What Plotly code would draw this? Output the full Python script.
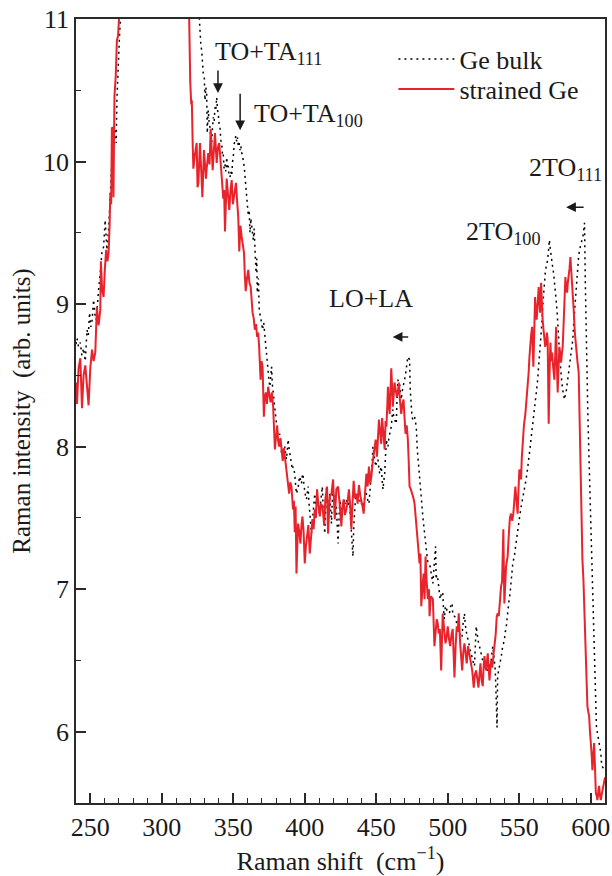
import plotly.graph_objects as go

# ---------------- data ----------------
# Ge bulk  (Raman shift cm^-1, intensity arb. units)
bulk_points = [
    (240.0, 8.72), (240.7, 8.76), (241.8, 8.70), (243.0, 8.73), (244.1, 8.64), (245.3, 8.69), (246.5, 8.60), (247.7, 8.82),
    (248.6, 8.78), (249.5, 8.94), (250.4, 8.84), (251.2, 8.88), (252.3, 9.03), (253.2, 8.93), (254.2, 8.89), (255.0, 9.02),
    (255.8, 9.10), (257.0, 9.22), (258.1, 9.36), (259.3, 9.40), (260.4, 9.59), (261.6, 9.38), (262.8, 9.52), (263.9, 9.75),
    (265.1, 9.96), (265.7, 10.10), (266.2, 10.24), (267.4, 10.24), (268.1, 10.13), (268.6, 10.43), (269.3, 10.67), (270.2, 10.83),
    (270.9, 10.97), (272.0, 11.4), (324.0, 11.4), (326.3, 10.97), (327.3, 10.82), (327.9, 10.78), (329.0, 10.62), (329.7, 10.60),
    (330.2, 10.43), (330.8, 10.52), (331.4, 10.48), (331.8, 10.20), (332.5, 10.36), (333.1, 10.28), (333.7, 10.24), (334.3, 10.16),
    (334.9, 10.13), (335.5, 10.24), (336.0, 10.31), (336.6, 10.28), (337.2, 10.38), (337.8, 10.36), (338.4, 10.45), (339.0, 10.36),
    (339.5, 10.34), (340.1, 10.26), (340.7, 10.24), (341.3, 10.15), (341.9, 10.13), (342.5, 10.04), (343.0, 10.05), (343.6, 9.95),
    (344.2, 9.98), (344.8, 9.93), (345.4, 10.03), (346.0, 9.95), (346.5, 9.97), (347.1, 9.90), (347.7, 9.89), (348.3, 9.93),
    (348.9, 9.90), (349.5, 10.00), (350.0, 10.03), (350.6, 10.12), (351.2, 10.15), (351.8, 10.18), (352.4, 10.14), (352.9, 10.17),
    (353.5, 10.11), (354.1, 10.13), (354.7, 10.08), (355.3, 10.11), (355.9, 10.06), (356.5, 10.05), (357.0, 10.00), (357.6, 9.97),
    (358.2, 9.90), (358.8, 9.82), (359.4, 9.70), (360.0, 9.68), (360.5, 9.62), (361.1, 9.66), (361.7, 9.50), (362.3, 9.60),
    (362.9, 9.55), (363.4, 9.48), (364.0, 9.45), (364.6, 9.53), (365.2, 9.40), (365.9, 9.22), (366.4, 9.32), (366.8, 9.08),
    (367.6, 9.18), (368.2, 8.95), (369.1, 8.91), (369.8, 8.84), (370.5, 8.82), (371.3, 8.87), (372.1, 8.78), (372.7, 8.72),
    (373.3, 8.66), (373.7, 8.56), (374.4, 8.49), (375.0, 8.46), (375.6, 8.42), (376.2, 8.50), (376.8, 8.56), (377.3, 8.44),
    (377.9, 8.38), (378.5, 8.33), (379.1, 8.26), (379.7, 8.21), (380.3, 8.14), (380.8, 8.12), (381.4, 8.05), (382.0, 8.08),
    (382.6, 8.09), (383.2, 8.01), (383.8, 7.95), (384.4, 7.96), (384.9, 7.93), (385.5, 7.97), (386.1, 8.00), (386.7, 7.94),
    (387.2, 7.91), (387.8, 7.98), (388.4, 8.05), (389.0, 7.99), (389.6, 7.95), (390.2, 7.90), (390.8, 7.88), (391.3, 7.84),
    (391.9, 7.86), (392.5, 7.83), (393.0, 7.81), (393.6, 7.73), (394.2, 7.67), (394.8, 7.69), (395.3, 7.70), (395.9, 7.76),
    (396.5, 7.79), (397.1, 7.76), (397.7, 7.74), (398.2, 7.79), (398.8, 7.81), (399.4, 7.73), (400.0, 7.67), (400.6, 7.65),
    (401.2, 7.63), (401.7, 7.69), (402.3, 7.72), (402.9, 7.61), (403.5, 7.51), (404.1, 7.45), (404.7, 7.39), (405.3, 7.47),
    (405.8, 7.53), (406.4, 7.60), (407.0, 7.67), (407.6, 7.61), (408.2, 7.56), (408.8, 7.61), (409.3, 7.63), (409.9, 7.56),
    (410.5, 7.51), (411.1, 7.61), (411.7, 7.70), (412.3, 7.72), (412.8, 7.58), (413.4, 7.45), (414.0, 7.39), (414.6, 7.55),
    (415.2, 7.72), (415.7, 7.61), (416.3, 7.51), (416.9, 7.60), (417.5, 7.67), (418.1, 7.56), (418.7, 7.46), (419.2, 7.61),
    (419.8, 7.70), (420.4, 7.65), (421.0, 7.63), (421.6, 7.60), (422.1, 7.58), (422.7, 7.45), (423.3, 7.32), (423.9, 7.48),
    (424.5, 7.63), (425.1, 7.59), (425.7, 7.58), (426.2, 7.55), (426.8, 7.56), (427.4, 7.61), (428.0, 7.63), (428.5, 7.60),
    (429.1, 7.63), (429.7, 7.60), (430.3, 7.61), (430.8, 7.57), (431.4, 7.58), (432.0, 7.50), (432.6, 7.38), (433.1, 7.30),
    (433.7, 7.23), (434.3, 7.45), (434.9, 7.58), (435.5, 7.64), (436.1, 7.67), (436.7, 7.64), (437.2, 7.65), (437.8, 7.62),
    (438.4, 7.63), (439.0, 7.60), (439.5, 7.61), (440.1, 7.58), (440.7, 7.58), (441.3, 7.62), (441.9, 7.64), (442.5, 7.67),
    (443.1, 7.67), (443.6, 7.63), (444.2, 7.62), (444.9, 7.60), (445.4, 7.66), (446.0, 7.71), (446.6, 7.77), (447.2, 7.90),
    (447.7, 8.00), (448.3, 7.94), (448.9, 7.91), (449.6, 7.86), (450.1, 7.89), (450.7, 7.90), (451.2, 7.91), (451.8, 7.85),
    (452.4, 7.81), (453.0, 7.84), (453.5, 7.86), (454.1, 7.77), (454.7, 7.70), (455.3, 7.76), (455.9, 7.81), (456.5, 7.94),
    (457.1, 8.05), (457.6, 8.01), (458.2, 8.00), (458.8, 8.06), (459.4, 8.09), (460.0, 8.12), (460.5, 8.14), (461.1, 8.21),
    (461.6, 8.26), (462.2, 8.21), (462.8, 8.19), (463.4, 8.18), (464.0, 8.16), (464.5, 8.33), (465.1, 8.47), (465.7, 8.45),
    (466.3, 8.45), (466.9, 8.38), (467.5, 8.33), (468.0, 8.38), (468.6, 8.42), (469.2, 8.44), (469.8, 8.47), (470.4, 8.50),
    (471.0, 8.54), (471.5, 8.58), (472.1, 8.63), (472.7, 8.62), (473.3, 8.61), (473.8, 8.40), (474.5, 8.23), (475.0, 8.21),
    (475.6, 8.19), (476.2, 8.21), (476.8, 8.21), (477.4, 8.17), (478.0, 8.14), (478.7, 7.98), (479.6, 7.86), (480.3, 7.77),
    (480.9, 7.68), (481.5, 7.60), (482.1, 7.55), (482.6, 7.51), (483.2, 7.45), (483.8, 7.39), (484.4, 7.34), (485.0, 7.30),
    (485.5, 7.24), (486.1, 7.18), (486.9, 7.17), (487.7, 7.16), (488.6, 7.10), (489.6, 7.04), (490.5, 7.17), (491.5, 7.30),
    (491.9, 7.07), (492.3, 7.10), (493.1, 7.07), (493.9, 7.00), (494.7, 6.93), (495.6, 6.97), (496.5, 6.98), (497.1, 6.85),
    (497.7, 6.79), (498.3, 6.88), (498.8, 6.88), (499.5, 6.85), (500.2, 6.84), (501.2, 6.83), (502.4, 6.90), (503.1, 6.90),
    (503.5, 6.83), (504.1, 6.81), (504.7, 6.81), (505.5, 6.80), (506.3, 6.76), (507.1, 6.78), (507.9, 6.75), (508.6, 6.68),
    (509.4, 6.66), (510.0, 6.67), (510.5, 6.74), (511.1, 6.80), (511.7, 6.83), (512.3, 6.75), (512.9, 6.69), (513.5, 6.67),
    (514.1, 6.65), (514.6, 6.62), (515.2, 6.60), (515.8, 6.57), (516.4, 6.55), (516.9, 6.52), (517.5, 6.50), (518.1, 6.48),
    (518.7, 6.46), (519.3, 6.60), (519.9, 6.74), (520.4, 6.70), (521.0, 6.65), (521.6, 6.62), (522.2, 6.60), (522.8, 6.57),
    (523.3, 6.55), (523.9, 6.51), (524.5, 6.48), (525.1, 6.47), (525.7, 6.46), (526.3, 6.45), (527.0, 6.44), (528.0, 6.43),
    (528.6, 6.45), (529.2, 6.47), (529.8, 6.48), (530.4, 6.50), (530.9, 6.55), (531.5, 6.60), (532.1, 6.55), (532.7, 6.50),
    (533.1, 6.45), (533.4, 6.39), (533.8, 6.22), (534.2, 6.08), (534.5, 6.03), (534.9, 6.39), (535.5, 6.42), (536.1, 6.46),
    (536.7, 6.48), (537.3, 6.50), (537.8, 6.55), (538.4, 6.60), (539.0, 6.62), (539.6, 6.64), (540.2, 6.70), (540.8, 6.72),
    (541.4, 6.78), (541.9, 6.86), (542.6, 6.90), (543.6, 6.97), (544.3, 7.07), (545.0, 7.12), (545.5, 7.18), (546.1, 7.21),
    (546.6, 7.23), (547.2, 7.28), (547.8, 7.33), (548.3, 7.38), (548.9, 7.42), (549.5, 7.46), (550.0, 7.50), (550.6, 7.53),
    (551.2, 7.57), (551.8, 7.60), (552.4, 7.63), (553.0, 7.66), (553.7, 7.69), (554.3, 7.72), (554.8, 7.77), (555.4, 7.81),
    (556.0, 7.85), (556.5, 7.89), (557.0, 7.93), (557.6, 7.99), (558.2, 8.05), (558.8, 8.10), (559.4, 8.14), (560.0, 8.18),
    (560.6, 8.23), (561.1, 8.29), (561.7, 8.35), (562.3, 8.41), (562.9, 8.47), (563.5, 8.54), (564.1, 8.61), (564.7, 8.68),
    (565.3, 8.75), (565.8, 8.86), (566.4, 8.98), (567.0, 9.08), (567.6, 9.17), (568.2, 9.22), (568.8, 9.26), (569.3, 9.28),
    (569.9, 9.31), (570.5, 9.38), (571.1, 9.45), (571.7, 9.39), (572.3, 9.33), (572.9, 9.30), (573.4, 9.26), (574.0, 9.22),
    (574.6, 9.17), (575.2, 9.10), (575.8, 9.03), (576.4, 8.96), (577.0, 8.89), (577.5, 8.78), (578.1, 8.66), (578.7, 8.57),
    (579.3, 8.49), (579.8, 8.45), (580.4, 8.40), (581.0, 8.36), (581.6, 8.33), (582.2, 8.36), (582.8, 8.38), (583.4, 8.43),
    (584.0, 8.47), (584.6, 8.52), (585.1, 8.56), (585.7, 8.61), (586.3, 8.66), (586.9, 8.70), (587.5, 8.75), (588.0, 8.85),
    (588.6, 8.94), (589.2, 9.03), (589.8, 9.12), (590.4, 9.21), (591.0, 9.29), (591.6, 9.34), (592.2, 9.38), (592.7, 9.41),
    (593.3, 9.43), (593.9, 9.45), (594.5, 9.47), (595.1, 9.52), (595.7, 9.57), (596.2, 9.17), (596.9, 8.70), (597.4, 8.46),
    (598.0, 8.23), (598.6, 8.00), (599.2, 7.77), (599.8, 7.53), (600.4, 7.30), (601.0, 7.10), (601.7, 6.90), (602.1, 6.75),
    (602.7, 6.60), (603.1, 6.27), (603.5, 6.15), (604.0, 6.04), (604.7, 5.99), (605.4, 5.94), (606.2, 5.90), (607.1, 5.85),
    (607.7, 5.76), (608.5, 5.75), (609.4, 5.73), (610.0, 5.72),
]

# strained Ge
strained_points = [
    (240.0, 8.45), (240.7, 8.30), (241.8, 8.55), (243.0, 8.62), (244.2, 8.27), (245.3, 8.50), (246.5, 8.57), (247.6, 8.40),
    (248.8, 8.29), (250.0, 8.55), (251.2, 8.68), (252.3, 8.60), (253.5, 8.66), (254.6, 8.98), (255.8, 8.85), (257.0, 8.96),
    (257.4, 9.30), (258.3, 9.10), (259.3, 9.05), (260.2, 9.25), (261.1, 9.38), (262.0, 9.30), (262.8, 9.36), (263.5, 9.55),
    (264.0, 9.78), (264.6, 9.70), (265.1, 10.24), (265.7, 10.22), (266.2, 9.75), (266.9, 10.46), (267.8, 10.60), (268.6, 10.85),
    (269.4, 10.88), (270.2, 11.02), (271.5, 11.4), (318.5, 11.4), (319.1, 11.0), (319.9, 10.56), (320.6, 10.40), (321.0, 10.43),
    (321.6, 10.13), (322.1, 9.95), (323.2, 10.05), (324.4, 10.13), (325.0, 9.82), (325.6, 9.85), (326.7, 10.13), (327.9, 9.77),
    (328.4, 9.75), (329.5, 10.08), (330.2, 9.95), (330.9, 9.88), (331.4, 9.95), (332.5, 10.06), (333.4, 9.98), (334.2, 10.23),
    (335.6, 9.94), (336.4, 10.05), (337.2, 10.20), (338.4, 9.99), (339.3, 10.10), (340.2, 10.13), (341.0, 10.02), (341.9, 9.95),
    (343.0, 9.74), (343.6, 9.80), (344.2, 9.51), (345.4, 9.88), (346.3, 9.75), (347.2, 9.66), (348.1, 9.80), (348.9, 9.87),
    (349.7, 9.70), (350.5, 9.75), (351.2, 9.82), (351.9, 9.85), (352.7, 9.72), (353.5, 9.61), (354.2, 9.37), (355.0, 9.55),
    (355.9, 9.47), (356.7, 9.42), (357.5, 9.36), (358.1, 9.20), (358.7, 9.09), (359.6, 9.18), (360.5, 9.24), (361.3, 9.15),
    (362.2, 9.12), (363.5, 8.94), (364.3, 8.90), (365.1, 8.82), (365.9, 8.86), (366.7, 8.77), (367.4, 8.80), (368.1, 8.70),
    (369.1, 8.47), (369.8, 8.60), (370.5, 8.56), (371.4, 8.21), (372.1, 8.35), (372.8, 8.38), (373.6, 8.30), (374.4, 8.42),
    (375.2, 8.36), (376.1, 8.31), (377.0, 8.38), (377.9, 8.28), (379.1, 7.98), (380.0, 8.10), (380.7, 8.15), (381.4, 8.04),
    (382.1, 8.00), (383.0, 8.06), (383.8, 7.98), (384.6, 7.90), (385.4, 7.99), (386.1, 7.92), (386.8, 7.86), (387.7, 7.79),
    (388.4, 7.74), (389.1, 7.67), (389.9, 7.75), (390.7, 7.72), (391.8, 7.56), (392.4, 7.62), (393.0, 7.40), (393.6, 7.58),
    (394.2, 7.11), (394.8, 7.35), (395.3, 7.46), (396.2, 7.40), (397.0, 7.32), (397.7, 7.45), (398.4, 7.51), (399.2, 7.40),
    (400.0, 7.18), (400.8, 7.30), (401.6, 7.39), (402.5, 7.45), (403.5, 7.25), (404.4, 7.38), (405.4, 7.49), (406.2, 7.42),
    (407.0, 7.56), (407.8, 7.50), (408.6, 7.70), (409.5, 7.60), (410.5, 7.51), (411.4, 7.60), (412.4, 7.58), (413.6, 7.45),
    (414.4, 7.63), (415.6, 7.72), (416.3, 7.39), (417.5, 7.65), (418.7, 7.67), (419.8, 7.77), (421.0, 7.49), (422.1, 7.70),
    (423.3, 7.72), (424.4, 7.60), (425.6, 7.44), (426.4, 7.58), (427.2, 7.63), (428.1, 7.52), (429.1, 7.56), (430.0, 7.62),
    (430.9, 7.70), (431.8, 7.58), (432.6, 7.42), (433.4, 7.60), (434.2, 7.76), (435.1, 7.64), (436.1, 7.67), (437.0, 7.60),
    (437.9, 7.73), (438.8, 7.66), (439.6, 7.63), (440.4, 7.58), (441.2, 7.53), (442.1, 7.70), (443.1, 7.81), (444.0, 7.72),
    (444.9, 7.86), (445.8, 7.74), (446.6, 7.79), (447.4, 7.88), (448.2, 7.93), (449.0, 7.98), (449.6, 8.05), (450.5, 7.93),
    (451.2, 8.06), (451.9, 8.19), (452.7, 8.10), (453.5, 8.02), (454.1, 8.20), (454.7, 8.14), (455.3, 8.05), (455.9, 7.98),
    (456.5, 8.18), (457.1, 8.14), (457.7, 8.28), (458.2, 8.42), (458.8, 8.30), (459.4, 8.23), (460.0, 8.40), (460.5, 8.55),
    (461.0, 8.44), (461.6, 8.28), (462.2, 8.36), (462.8, 8.45), (463.6, 8.40), (464.4, 8.35), (465.1, 8.38), (465.8, 8.45),
    (466.6, 8.32), (467.5, 8.23), (468.3, 8.30), (469.1, 8.33), (469.8, 8.20), (470.5, 8.09), (471.3, 8.15), (472.1, 8.05),
    (472.7, 7.90), (473.3, 7.72), (474.2, 7.70), (475.2, 7.67), (476.0, 7.64), (476.8, 7.60), (477.4, 7.52), (478.0, 7.44),
    (478.6, 7.36), (479.1, 7.30), (479.7, 7.22), (480.3, 7.18), (480.9, 7.25), (481.5, 6.88), (482.3, 7.00), (483.1, 7.11),
    (483.8, 6.93), (484.5, 7.23), (485.3, 7.05), (486.1, 6.93), (486.9, 7.00), (487.3, 6.81), (488.2, 6.95), (489.6, 6.93),
    (490.7, 6.60), (491.5, 6.70), (492.3, 6.79), (493.0, 6.76), (493.7, 6.69), (494.5, 6.72), (495.4, 6.43), (496.5, 6.83),
    (497.4, 6.70), (498.4, 6.62), (499.2, 6.66), (500.0, 6.74), (500.9, 6.65), (501.7, 6.60), (502.6, 6.68), (503.5, 6.72),
    (504.1, 6.55), (504.7, 6.38), (505.5, 6.60), (506.3, 6.74), (507.0, 6.70), (507.7, 6.83), (508.7, 6.62), (509.4, 6.55),
    (510.1, 6.43), (510.9, 6.56), (511.7, 6.62), (512.5, 6.55), (513.3, 6.48), (514.2, 6.60), (515.2, 6.55), (516.1, 6.50),
    (517.1, 6.43), (517.6, 6.38), (518.2, 6.31), (519.0, 6.40), (519.8, 6.43), (520.6, 6.38), (521.5, 6.31), (522.2, 6.40),
    (522.9, 6.48), (523.7, 6.36), (524.5, 6.32), (525.1, 6.45), (525.7, 6.53), (526.3, 6.46), (526.9, 6.43), (527.5, 6.50),
    (528.0, 6.55), (528.6, 6.45), (529.2, 6.36), (529.8, 6.44), (530.4, 6.50), (531.0, 6.45), (531.5, 6.48), (532.1, 6.55),
    (532.7, 6.60), (533.5, 6.68), (534.3, 6.81), (535.0, 6.83), (535.7, 6.81), (536.5, 6.92), (537.3, 7.02), (538.0, 7.05),
    (538.9, 7.42), (539.6, 6.90), (540.2, 7.05), (540.8, 7.16), (541.4, 7.20), (541.9, 7.23), (542.7, 7.38), (543.5, 7.50),
    (544.3, 7.53), (545.1, 7.48), (545.9, 7.53), (546.6, 7.62), (547.3, 7.72), (548.1, 7.62), (548.9, 7.53), (549.5, 7.70),
    (550.1, 7.84), (550.7, 7.80), (551.3, 7.77), (551.8, 7.92), (552.4, 8.05), (553.3, 8.15), (554.3, 8.23), (555.2, 8.33),
    (555.9, 8.42), (556.6, 8.52), (557.1, 8.62), (557.6, 8.70), (558.3, 8.78), (559.0, 8.84), (559.5, 8.70), (559.9, 8.56),
    (560.5, 8.80), (561.1, 9.05), (561.7, 8.95), (562.2, 8.89), (562.9, 9.00), (563.6, 9.12), (564.1, 9.02), (564.6, 8.94),
    (565.3, 9.15), (565.8, 9.00), (566.4, 8.89), (567.0, 8.82), (567.6, 8.77), (568.2, 8.70), (568.8, 8.73), (569.4, 8.80),
    (569.9, 8.75), (570.3, 8.45), (570.6, 8.16), (571.2, 8.50), (571.8, 8.73), (572.4, 8.60), (573.0, 8.66), (573.8, 8.55),
    (574.6, 8.47), (575.2, 8.65), (575.8, 8.84), (576.3, 8.60), (576.9, 8.38), (577.5, 8.55), (578.1, 8.70), (578.7, 8.65),
    (579.3, 8.59), (579.9, 8.66), (580.4, 8.70), (581.0, 8.85), (581.6, 8.98), (582.3, 9.19), (582.9, 9.12), (583.5, 9.08),
    (584.0, 9.15), (584.6, 9.19), (585.2, 9.25), (585.8, 9.33), (586.4, 9.25), (587.0, 9.17), (587.5, 9.05), (588.1, 8.96),
    (588.9, 8.80), (589.8, 8.68), (590.7, 8.60), (591.6, 8.52), (592.5, 8.00), (593.3, 7.46), (594.2, 7.21), (594.9, 7.07),
    (595.7, 6.80), (596.6, 6.46), (597.2, 6.30), (597.7, 6.18), (598.3, 6.14), (598.9, 6.11), (599.5, 6.00), (600.1, 5.94),
    (600.6, 5.85), (601.2, 5.73), (601.8, 5.80), (602.4, 5.92), (603.0, 5.75), (603.6, 5.57), (604.2, 5.55), (604.7, 5.52),
    (605.3, 5.58), (605.9, 5.62), (606.5, 5.55), (607.1, 5.52), (607.7, 5.56), (608.2, 5.59), (608.8, 5.60), (609.4, 5.64),
    (610.0, 5.68),
]

series_names = ["Ge bulk", "strained Ge"]
x_ticks = [250, 300, 350, 400, 450, 500, 550, 600]
y_ticks = [6, 7, 8, 9, 10, 11]

bulk_x = [p[0] for p in bulk_points]
bulk_y = [p[1] for p in bulk_points]
str_x = [p[0] for p in strained_points]
str_y = [p[1] for p in strained_points]

FONT = "Liberation Serif, Times New Roman, serif"
FS = 26
RED = "#e8232b"
AX = "#2a2a2a"
TXT = "#1a1a1a"

fig = go.Figure()
fig.add_trace(go.Scatter(x=bulk_x, y=bulk_y, mode="lines", name=series_names[0], legend="legend",
                         line=dict(color="black", width=1.5, dash="2px,4px")))
fig.add_trace(go.Scatter(x=str_x, y=str_y, mode="lines", name=series_names[1], legend="legend2",
                         line=dict(color=RED, width=2)))

axis_common = dict(showline=True, mirror=True, linecolor=AX, linewidth=1.5,
                   ticks="inside", ticklen=10, tickwidth=1.5, tickcolor=AX,
                   showgrid=False, zeroline=False,
                   tickfont=dict(family=FONT, size=FS, color=TXT))

fig.update_xaxes(range=[240, 610], tickvals=x_ticks, automargin=False,
                 minor=dict(ticks="inside", ticklen=5, tickwidth=1.2, dtick=10, tick0=240, tickcolor=AX),
                 title=dict(text="Raman shift\u00a0\u00a0(cm<sup>\u22121</sup>)", font=dict(family=FONT, size=FS, color=TXT)),
                 **axis_common)
fig.update_yaxes(range=[5.5, 11], tickvals=y_ticks, automargin=True,
                 minor=dict(ticks="inside", ticklen=5, tickwidth=1.2, dtick=0.5, tick0=5.5, tickcolor=AX),
                 title=dict(text="Raman intensity\u00a0\u00a0(arb. units)", font=dict(family=FONT, size=25, color=TXT), standoff=5),
                 **axis_common)

ann_font = dict(family=FONT, size=FS, color=TXT)
texts = [
    ("TO+TA<sub>111</sub>", 335.8, 10.76),
    ("TO+TA<sub>100</sub>", 363.1, 10.33),
    ("2TO<sub>100</sub>", 511.7, 9.50),
    ("2TO<sub>111</sub>", 555.7, 9.95),
]
for t, x, y in texts:
    fig.add_annotation(x=x, y=y, xref="x", yref="y", text=t, showarrow=False,
                       xanchor="left", yanchor="middle", font=ann_font)
fig.add_annotation(x=446.6, y=9.04, xref="x", yref="y", text="LO+LA", showarrow=False,
                   xanchor="center", yanchor="middle", font=ann_font)

arrows = [
    (339.3, 10.48, 0, -24),
    (354.8, 10.22, 0, -38),
    (461.5, 8.77, 17, 0),
    (582.8, 9.68, 19, 0),
]
for x, y, axp, ayp in arrows:
    fig.add_annotation(x=x, y=y, xref="x", yref="y", ax=axp, ay=ayp, text="",
                       showarrow=True, arrowhead=2, arrowsize=1.3, arrowwidth=1.5, arrowcolor=TXT)

leg_common = dict(xanchor="left", yanchor="middle", bgcolor="rgba(0,0,0,0)",
                  font=dict(family=FONT, size=FS, color=TXT), itemwidth=56)
fig.update_layout(
    width=612, height=876,
    margin=dict(l=76, r=7, t=19, b=73, autoexpand=False),
    paper_bgcolor="white", plot_bgcolor="white",
    font=dict(family=FONT, size=FS, color=TXT),
    legend=dict(x=0.6, y=(803 - 59) / 784, **leg_common),
    legend2=dict(x=0.6, y=(803 - 89) / 784, **leg_common),
    showlegend=True,
)

fig.write_html("out.html", config={"displayModeBar": False},
               post_script="document.body.style.margin='0';document.body.style.padding='0';")
